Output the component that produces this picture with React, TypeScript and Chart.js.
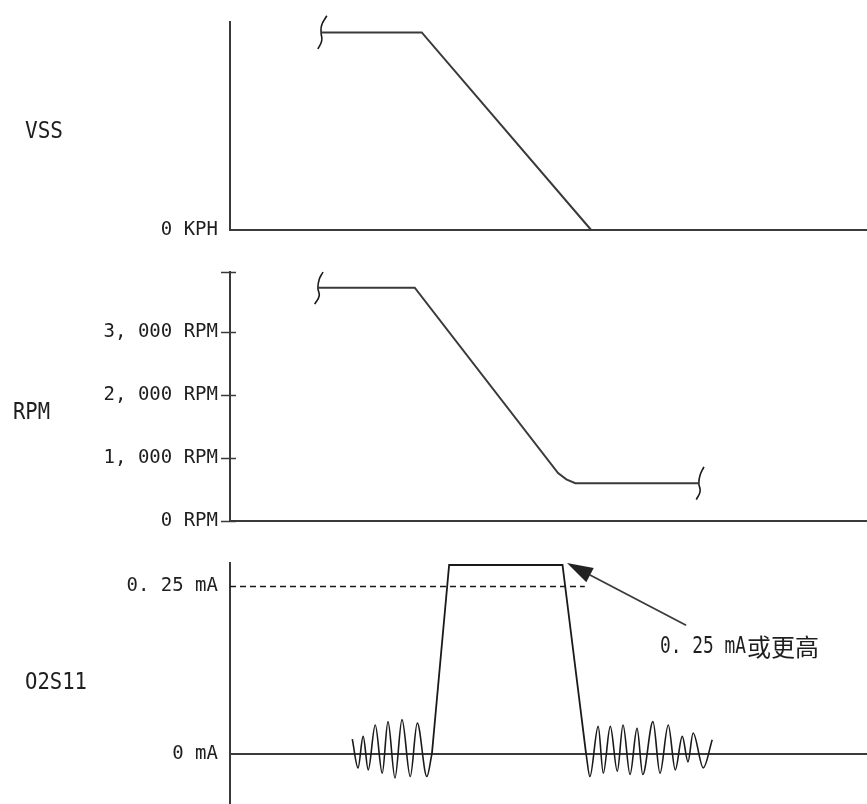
import React, { useEffect, useRef } from "react";
import { Chart, registerables } from "chart.js";

Chart.register(...registerables);

// ---------------- shared time axis ----------------
const TIME_MIN = 0;
const TIME_MAX = 100;

// ---------------- VSS panel ----------------
const VSS_LABEL = "VSS";
const VSS_MIN = 0;
const VSS_MAX = 100;
const VSS_TICKS = [0];
const VSS_TICK_LABELS = ["0 KPH"];
const VSS_TIME = [14.3, 30.1, 56.7];
const VSS_SPEED = [95, 95, 0];
const VSS_BREAK_TIME = [15.2, 14.4, 14.3, 14.4, 13.8];
const VSS_BREAK_SPEED = [103, 98.6, 95, 91, 87];

// ---------------- RPM panel ----------------
const RPM_LABEL = "RPM";
const RPM_MIN = 0;
const RPM_MAX = 3950;
const RPM_TICKS = [0, 1000, 2000, 3000, 3950];
const RPM_TICK_LABELS = ["0 RPM", "1, 000 RPM", "2, 000 RPM", "3, 000 RPM", ""];
const RPM_TIME = [13.8, 29.0, 51.5, 52.8, 54.2, 73.6];
const RPM_VALUES = [3700, 3700, 760, 660, 600, 600];
const RPM_BREAK_START_TIME = [14.6, 14.0, 13.8, 14.0, 13.3];
const RPM_BREAK_START_VALUES = [3950, 3830, 3700, 3570, 3440];
const RPM_BREAK_END_TIME = [74.4, 73.8, 73.6, 73.8, 73.2];
const RPM_BREAK_END_VALUES = [860, 730, 600, 470, 340];

// ---------------- O2S11 panel ----------------
const O2_LABEL = "O2S11";
const O2_MIN = -0.075;
const O2_MAX = 0.285;
const O2_TICKS = [0, 0.25];
const O2_TICK_LABELS = ["0 mA", "0. 25 mA"];
const O2_THRESHOLD = 0.25;
const O2_THRESHOLD_TIME = [0, 55.7];
const O2_LEFT_TIME = [19.2, 20.1, 20.9, 21.7, 22.8, 23.9, 24.8, 25.9, 27.0, 28.3, 29.4, 30.9, 31.7];
const O2_LEFT_VALUES = [0.022, -0.021, 0.026, -0.024, 0.043, -0.029, 0.048, -0.036, 0.051, -0.034, 0.046, -0.034, 0];
const O2_PULSE_TIME = [31.7, 34.4, 52.2, 55.9];
const O2_PULSE_VALUES = [0, 0.282, 0.282, 0];
const O2_RIGHT_TIME = [55.9, 56.5, 57.8, 58.6, 59.7, 60.8, 61.7, 62.8, 63.9, 64.8, 66.4, 67.5, 68.8, 69.9, 71.0, 71.9, 72.7, 74.3, 75.7];
const O2_RIGHT_VALUES = [0, -0.034, 0.041, -0.029, 0.041, -0.026, 0.043, -0.031, 0.038, -0.031, 0.048, -0.029, 0.043, -0.024, 0.026, -0.012, 0.031, -0.021, 0.021];
const NOTE_VALUE_TEXT = "0. 25 mA";
const NOTE_SUFFIX_TEXT = "或更高";
const NOTE_AT = { time: 67.5, value: 0.16 };
const ARROW_FROM = { time: 71.6, value: 0.192 };
const ARROW_TO = { time: 52.9, value: 0.285 };

// ---------------- styling ----------------
const W = 867;
const H = 804;
const AXIS_WIDTH = 230;
const LINE = "#3a3a3a";
const WAVE = "#1a1a1a";
const INK = "#1e1e1e";
const MONO = '"DejaVu Sans Mono", "Liberation Mono", monospace';
const TICK_FONT = { family: MONO, size: 19 };
const LABEL_FONT = `23px ${MONO}`;
const CJK_FONT = '24px "Noto Sans CJK SC", "Noto Sans CJK JP", sans-serif';
const CLEAR = "rgba(0,0,0,0)";

const pts = (xs: number[], ys: number[]) => xs.map((x, i) => ({ x, y: ys[i] }));

const timeScale = (visible: boolean) => ({
  type: "linear",
  min: TIME_MIN,
  max: TIME_MAX,
  display: visible,
  ticks: { display: false },
  grid: { display: true, drawOnChartArea: false, drawTicks: false, color: CLEAR },
  border: { display: true, color: LINE, width: 2 },
  afterFit: (s: any) => {
    s.height = 0;
    s.paddingLeft = 0;
    s.paddingRight = 0;
  },
});

const valueScale = (
  min: number,
  max: number,
  tickValues: number[],
  tickLabels: string[],
  zeroLine: boolean
) => ({
  type: "linear",
  min,
  max,
  afterBuildTicks: (s: any) => {
    s.ticks = tickValues.map((value) => ({ value }));
  },
  afterFit: (s: any) => {
    s.width = AXIS_WIDTH;
    s.paddingTop = 0;
    s.paddingBottom = 0;
  },
  ticks: {
    autoSkip: false,
    padding: 12,
    color: INK,
    font: TICK_FONT,
    callback: (v: number) => {
      const i = tickValues.indexOf(v);
      return i >= 0 ? tickLabels[i] : "";
    },
  },
  grid: {
    drawTicks: false,
    drawOnChartArea: zeroLine,
    lineWidth: 2,
    color: (ctx: any) => (zeroLine && ctx.tick && ctx.tick.value === 0 ? LINE : CLEAR),
  },
  border: { display: true, color: LINE, width: 2 },
});

const lineSet = (data: { x: number; y: number }[], extra: any = {}) => ({
  data,
  borderColor: LINE,
  borderWidth: 2,
  pointRadius: 0,
  fill: false,
  tension: 0,
  clip: false,
  ...extra,
});

const panelLabelPlugin = {
  id: "panelLabel",
  afterDraw(chart: any, _args: any, opts: any) {
    const { ctx } = chart;
    ctx.save();
    ctx.font = LABEL_FONT;
    ctx.fillStyle = INK;
    ctx.textAlign = "left";
    ctx.textBaseline = "middle";
    ctx.fillText(opts.text, opts.x, opts.y, opts.maxWidth);
    ctx.restore();
  },
};

const crossTicksPlugin = {
  id: "crossTicks",
  afterDraw(chart: any) {
    const { ctx } = chart;
    const ys = chart.scales.y;
    const left = chart.chartArea.left;
    ctx.save();
    ctx.strokeStyle = LINE;
    ctx.lineWidth = 1.5;
    ys.ticks.forEach((t: any) => {
      const py = Math.round(ys.getPixelForValue(t.value)) + 0.5;
      ctx.beginPath();
      ctx.moveTo(left - 9, py);
      ctx.lineTo(left + 6, py);
      ctx.stroke();
    });
    ctx.restore();
  },
};

const arrowNotePlugin = {
  id: "arrowNote",
  afterDatasetsDraw(chart: any) {
    const { ctx } = chart;
    const xs = chart.scales.x;
    const ys = chart.scales.y;
    const x1 = xs.getPixelForValue(ARROW_FROM.time);
    const y1 = ys.getPixelForValue(ARROW_FROM.value);
    const x2 = xs.getPixelForValue(ARROW_TO.time);
    const y2 = ys.getPixelForValue(ARROW_TO.value);
    const ang = Math.atan2(y2 - y1, x2 - x1);
    const headLen = 26;
    const headHalf = 8;
    const bx = x2 - headLen * Math.cos(ang);
    const by = y2 - headLen * Math.sin(ang);
    ctx.save();
    ctx.strokeStyle = LINE;
    ctx.fillStyle = "#222";
    ctx.lineWidth = 1.8;
    ctx.beginPath();
    ctx.moveTo(x1, y1);
    ctx.lineTo(bx, by);
    ctx.stroke();
    ctx.beginPath();
    ctx.moveTo(x2, y2);
    ctx.lineTo(bx - headHalf * Math.sin(ang), by + headHalf * Math.cos(ang));
    ctx.lineTo(bx + headHalf * Math.sin(ang), by - headHalf * Math.cos(ang));
    ctx.closePath();
    ctx.fill();

    const tx = xs.getPixelForValue(NOTE_AT.time);
    const ty = ys.getPixelForValue(NOTE_AT.value);
    ctx.fillStyle = INK;
    ctx.textAlign = "left";
    ctx.textBaseline = "middle";
    ctx.font = LABEL_FONT;
    const maxW = 86;
    const w = Math.min(ctx.measureText(NOTE_VALUE_TEXT).width, maxW);
    ctx.fillText(NOTE_VALUE_TEXT, tx, ty, maxW);
    ctx.font = CJK_FONT;
    ctx.fillText(NOTE_SUFFIX_TEXT, tx + w + 1, ty);
    ctx.restore();
  },
};

const baseOptions = (padTop: number, padBottom: number, label: any) => ({
  responsive: false,
  animation: false,
  events: [],
  layout: { autoPadding: false, padding: { top: padTop, bottom: padBottom, left: 0, right: 0 } },
  plugins: {
    legend: { display: false },
    tooltip: { enabled: false },
    title: { display: false },
    panelLabel: label,
  },
});

function vssConfig(): any {
  return {
    type: "line",
    data: {
      datasets: [
        lineSet(pts(VSS_TIME, VSS_SPEED)),
        lineSet(pts(VSS_BREAK_TIME, VSS_BREAK_SPEED), { borderWidth: 1.6, tension: 0.5, borderColor: WAVE }),
      ],
    },
    options: {
      ...baseOptions(22, H - 230, { text: VSS_LABEL, x: 25, y: 132, maxWidth: 38 }),
      scales: {
        x: timeScale(true),
        y: valueScale(VSS_MIN, VSS_MAX, VSS_TICKS, VSS_TICK_LABELS, false),
      },
    },
    plugins: [panelLabelPlugin],
  };
}

function rpmConfig(): any {
  return {
    type: "line",
    data: {
      datasets: [
        lineSet(pts(RPM_TIME, RPM_VALUES)),
        lineSet(pts(RPM_BREAK_START_TIME, RPM_BREAK_START_VALUES), { borderWidth: 1.6, tension: 0.5, borderColor: WAVE }),
        lineSet(pts(RPM_BREAK_END_TIME, RPM_BREAK_END_VALUES), { borderWidth: 1.6, tension: 0.5, borderColor: WAVE }),
      ],
    },
    options: {
      ...baseOptions(272, H - 521, { text: RPM_LABEL, x: 13, y: 413, maxWidth: 37 }),
      scales: {
        x: timeScale(true),
        y: valueScale(RPM_MIN, RPM_MAX, RPM_TICKS, RPM_TICK_LABELS, false),
      },
    },
    plugins: [panelLabelPlugin, crossTicksPlugin],
  };
}

function o2Config(): any {
  return {
    type: "line",
    data: {
      datasets: [
        lineSet(pts(O2_THRESHOLD_TIME, [O2_THRESHOLD, O2_THRESHOLD]), { borderWidth: 1.5, borderDash: [6, 4], borderColor: WAVE }),
        lineSet(pts(O2_LEFT_TIME, O2_LEFT_VALUES), { borderWidth: 1.6, cubicInterpolationMode: "monotone", borderColor: WAVE }),
        lineSet(pts(O2_PULSE_TIME, O2_PULSE_VALUES), { borderWidth: 1.8, borderColor: WAVE }),
        lineSet(pts(O2_RIGHT_TIME, O2_RIGHT_VALUES), { borderWidth: 1.6, cubicInterpolationMode: "monotone", borderColor: WAVE }),
      ],
    },
    options: {
      ...baseOptions(563, 0, { text: O2_LABEL, x: 25, y: 683, maxWidth: 62 }),
      scales: {
        x: timeScale(false),
        y: valueScale(O2_MIN, O2_MAX, O2_TICKS, O2_TICK_LABELS, true),
      },
    },
    plugins: [panelLabelPlugin, arrowNotePlugin],
  };
}

export default function App() {
  const vssRef = useRef<HTMLCanvasElement>(null);
  const rpmRef = useRef<HTMLCanvasElement>(null);
  const o2Ref = useRef<HTMLCanvasElement>(null);

  useEffect(() => {
    const charts = [
      new Chart(vssRef.current as HTMLCanvasElement, vssConfig()),
      new Chart(rpmRef.current as HTMLCanvasElement, rpmConfig()),
      new Chart(o2Ref.current as HTMLCanvasElement, o2Config()),
    ];
    return () => charts.forEach((c) => c.destroy());
  }, []);

  const canvasStyle: React.CSSProperties = { position: "absolute", left: 0, top: 0 };
  return (
    <div
      style={{
        position: "absolute",
        left: 0,
        top: 0,
        width: W,
        height: H,
        background: "#fff",
        overflow: "hidden",
      }}
    >
      <canvas ref={vssRef} width={W} height={H} style={canvasStyle} />
      <canvas ref={rpmRef} width={W} height={H} style={canvasStyle} />
      <canvas ref={o2Ref} width={W} height={H} style={canvasStyle} />
    </div>
  );
}
